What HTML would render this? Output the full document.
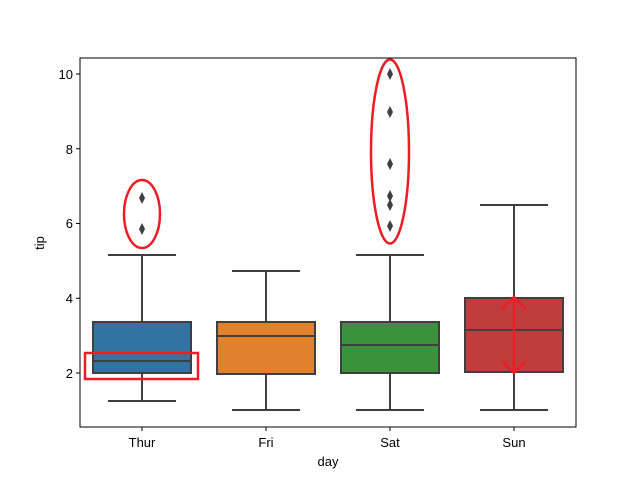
<!DOCTYPE html>
<html><head><style>body{margin:0;background:#fff}svg{display:block}text{font-family:"Liberation Sans","DejaVu Sans",sans-serif;font-size:13px;fill:#000}</style></head>
<body>
<svg width="640" height="480" xmlns="http://www.w3.org/2000/svg">
<g stroke="#3f3f3f" stroke-width="2" fill="none">
<line x1="142" y1="401" x2="142" y2="373"/><line x1="142" y1="322" x2="142" y2="255"/>
<line x1="108" y1="401" x2="176" y2="401"/><line x1="108" y1="255" x2="176" y2="255"/>
<rect x="93" y="322" width="98" height="51" fill="#3274a1"/><line x1="93" y1="361" x2="191" y2="361"/>
<line x1="266" y1="410" x2="266" y2="374"/><line x1="266" y1="322" x2="266" y2="271"/>
<line x1="232" y1="410" x2="300" y2="410"/><line x1="232" y1="271" x2="300" y2="271"/>
<rect x="217" y="322" width="98" height="52" fill="#e1812c"/><line x1="217" y1="336" x2="315" y2="336"/>
<line x1="390" y1="410" x2="390" y2="373"/><line x1="390" y1="322" x2="390" y2="255"/>
<line x1="356" y1="410" x2="424" y2="410"/><line x1="356" y1="255" x2="424" y2="255"/>
<rect x="341" y="322" width="98" height="51" fill="#3a923a"/><line x1="341" y1="345" x2="439" y2="345"/>
<line x1="514" y1="410" x2="514" y2="372"/><line x1="514" y1="298" x2="514" y2="205"/>
<line x1="480" y1="410" x2="548" y2="410"/><line x1="480" y1="205" x2="548" y2="205"/>
<rect x="465" y="298" width="98" height="74" fill="#c03d3e"/><line x1="465" y1="330" x2="563" y2="330"/>
</g>
<g fill="#3f3f3f">
<path d="M142 192l3 6-3 6-3-6z"/><path d="M142 223l3 6-3 6-3-6z"/>
<path d="M390 68l3 6-3 6-3-6z"/><path d="M390 106l3 6-3 6-3-6z"/><path d="M390 158l3 6-3 6-3-6z"/>
<path d="M390 190l3 6-3 6-3-6z"/><path d="M390 199l3 6-3 6-3-6z"/><path d="M390 220l3 6-3 6-3-6z"/>
</g>
<g stroke="#ee1c25" stroke-width="2.5" fill="none">
<ellipse cx="142" cy="214" rx="18" ry="34"/>
<ellipse cx="390" cy="151.5" rx="19" ry="92"/>
<rect x="85" y="353" width="113" height="26"/>
<line x1="514" y1="298" x2="514" y2="372"/>
<path d="M502 309l12-12 12 12M502 361l12 12 12-12"/>
</g>
<rect x="80" y="58" width="496" height="369" fill="none" stroke="#000" stroke-width="1"/>
<g stroke="#000" stroke-width="1">
<line x1="76" y1="373" x2="80" y2="373"/><line x1="76" y1="298.25" x2="80" y2="298.25"/><line x1="76" y1="223.5" x2="80" y2="223.5"/><line x1="76" y1="148.75" x2="80" y2="148.75"/><line x1="76" y1="74" x2="80" y2="74"/>
<line x1="142" y1="427" x2="142" y2="431"/><line x1="266" y1="427" x2="266" y2="431"/><line x1="390" y1="427" x2="390" y2="431"/><line x1="514" y1="427" x2="514" y2="431"/>
</g>
<g text-anchor="end"><text x="73" y="378">2</text><text x="73" y="303">4</text><text x="73" y="228">6</text><text x="73" y="154">8</text><text x="73" y="79">10</text></g>
<g text-anchor="middle"><text x="142" y="447">Thur</text><text x="266" y="447">Fri</text><text x="390" y="447">Sat</text><text x="514" y="447">Sun</text>
<text x="328" y="466">day</text><text transform="translate(44 243) rotate(-90)">tip</text></g>
</svg>
</body></html>
